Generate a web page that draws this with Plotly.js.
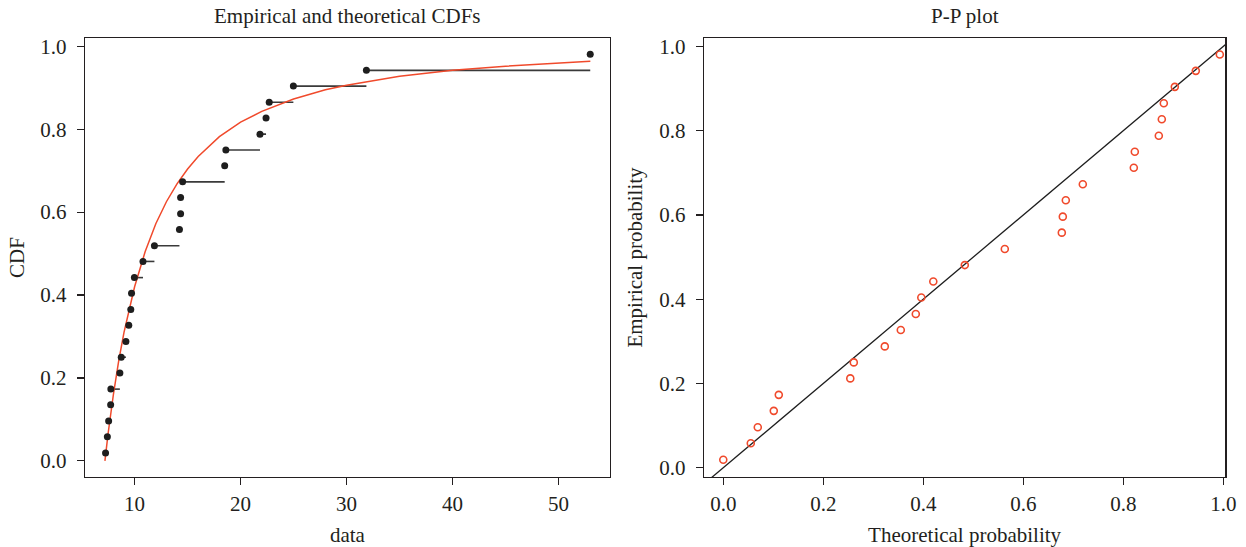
<!DOCTYPE html>
<html>
<head>
<meta charset="utf-8">
<script src="https://cdn.plot.ly/plotly-3.0.1.min.js"></script>
<style>html,body{margin:0;padding:0;background:#fff;}#chart{width:1246px;height:547px;}</style>
</head>
<body>
<div id="chart"></div>
<script>
// ---- Empirical CDF data (left panel) ----
const dataValues = [7.26, 7.43, 7.55, 7.74, 7.76, 8.61, 8.74, 9.18, 9.45, 9.64, 9.71, 9.98, 10.79,
  11.87, 14.23, 14.34, 14.34, 14.53, 18.50, 18.61, 21.83, 22.40, 22.70, 24.98, 31.87, 52.99];
const empiricalCDF = [0.019, 0.058, 0.096, 0.135, 0.173, 0.212, 0.250, 0.288, 0.327, 0.365, 0.404,
  0.442, 0.481, 0.519, 0.558, 0.596, 0.635, 0.673, 0.712, 0.750, 0.788, 0.827, 0.865, 0.904, 0.942, 0.981];

// ---- Theoretical CDF curve ----
const curveX = [7.2, 7.5, 8, 8.5, 9, 9.5, 10, 11, 12, 13, 14, 15, 16, 18, 20, 22, 25, 28, 30, 35, 40, 45, 50, 53];
const curveY = [0.000, 0.066, 0.160, 0.241, 0.310, 0.369, 0.420, 0.505, 0.572, 0.625, 0.668, 0.704, 0.734,
  0.782, 0.817, 0.843, 0.873, 0.895, 0.906, 0.928, 0.942, 0.952, 0.960, 0.964];

// ---- P-P plot data (right panel) ----
const theoreticalProb = [0.000, 0.055, 0.069, 0.101, 0.111, 0.254, 0.261, 0.323, 0.355, 0.385, 0.396, 0.420, 0.483,
  0.563, 0.677, 0.679, 0.685, 0.719, 0.821, 0.823, 0.871, 0.877, 0.881, 0.903, 0.945, 0.993];
const empiricalProb = [0.019, 0.058, 0.096, 0.135, 0.173, 0.212, 0.250, 0.288, 0.327, 0.365, 0.404,
  0.442, 0.481, 0.519, 0.558, 0.596, 0.635, 0.673, 0.712, 0.750, 0.788, 0.827, 0.865, 0.904, 0.942, 0.981];
const identityLine = [-0.1, 1.1];

// tick values / labels
const cdfTicks = [0, 0.2, 0.4, 0.6, 0.8, 1.0];
const cdfTickText = ['0.0', '0.2', '0.4', '0.6', '0.8', '1.0'];
const dataTicks = [10, 20, 30, 40, 50];

// build horizontal step segments of the ECDF
const stepX = [], stepY = [];
for (let i = 0; i < dataValues.length - 1; i++) {
  stepX.push(dataValues[i], dataValues[i + 1], null);
  stepY.push(empiricalCDF[i], empiricalCDF[i], null);
}

const FONT = 'Liberation Serif, Times New Roman, serif';
const INK = '#231f20';
const RED = '#f04a2c';
const FS = 21;

const traces = [
  {x: stepX, y: stepY, xaxis: 'x', yaxis: 'y', mode: 'lines', type: 'scatter',
   line: {color: '#3a3a3a', width: 1.6}, hoverinfo: 'skip', showlegend: false},
  {x: curveX, y: curveY, xaxis: 'x', yaxis: 'y', mode: 'lines', type: 'scatter',
   line: {color: RED, width: 1.5}, showlegend: false},
  {x: dataValues, y: empiricalCDF, xaxis: 'x', yaxis: 'y', mode: 'markers', type: 'scatter',
   marker: {color: '#1e1e1e', size: 7}, showlegend: false},
  {x: identityLine, y: identityLine, xaxis: 'x2', yaxis: 'y2', mode: 'lines', type: 'scatter',
   line: {color: '#1e1e1e', width: 1.3}, showlegend: false},
  {x: theoreticalProb, y: empiricalProb, xaxis: 'x2', yaxis: 'y2', mode: 'markers', type: 'scatter',
   marker: {symbol: 'circle-open', color: RED, size: 7, line: {width: 1.6, color: RED}}, showlegend: false}
];

const axisBase = {
  showline: true, mirror: true, linecolor: INK, linewidth: 1.2,
  ticks: 'outside', ticklen: 7, tickwidth: 1.2, tickcolor: INK,
  showgrid: false, zeroline: false,
  tickfont: {family: FONT, size: FS, color: INK}
};
const titleFont = {family: FONT, size: FS, color: INK};

const layout = {
  width: 1246, height: 547,
  margin: {l: 85, r: 20, t: 38, b: 70},
  paper_bgcolor: '#ffffff', plot_bgcolor: '#ffffff',
  font: {family: FONT, color: INK},
  showlegend: false,
  xaxis: Object.assign({}, axisBase, {
    domain: [0, 0.4599], range: [5.32, 54.83], tickvals: dataTicks, anchor: 'y', ticklabelstandoff: 1,
    title: {text: 'data', font: titleFont, standoff: 12}
  }),
  yaxis: Object.assign({}, axisBase, {
    domain: [0, 1], range: [-0.039, 1.020], tickvals: cdfTicks, ticktext: cdfTickText, anchor: 'x',
    ticklabelstandoff: 6,
    title: {text: 'CDF', font: titleFont, standoff: 10}
  }),
  xaxis2: Object.assign({}, axisBase, {
    domain: [0.5424, 0.9994], range: [-0.0388, 1.004], tickvals: cdfTicks, ticktext: cdfTickText, anchor: 'y2',
    ticklabelstandoff: 1,
    title: {text: 'Theoretical probability', font: titleFont, standoff: 12}
  }),
  yaxis2: Object.assign({}, axisBase, {
    domain: [0, 1], range: [-0.022, 1.020], tickvals: cdfTicks, ticktext: cdfTickText, anchor: 'x2',
    ticklabelstandoff: 6,
    title: {text: 'Empirical probability', font: titleFont, standoff: 10}
  }),
  annotations: [
    {text: 'Empirical and theoretical CDFs', xref: 'x domain', yref: 'paper', x: 0.5, y: 1, yshift: 22,
     showarrow: false, font: titleFont, xanchor: 'center', yanchor: 'middle'},
    {text: 'P-P plot', xref: 'x2 domain', yref: 'paper', x: 0.5, y: 1, yshift: 22,
     showarrow: false, font: titleFont, xanchor: 'center', yanchor: 'middle'}
  ]
};

Plotly.newPlot('chart', traces, layout, {displayModeBar: false, staticPlot: true});
</script>
</body>
</html>
